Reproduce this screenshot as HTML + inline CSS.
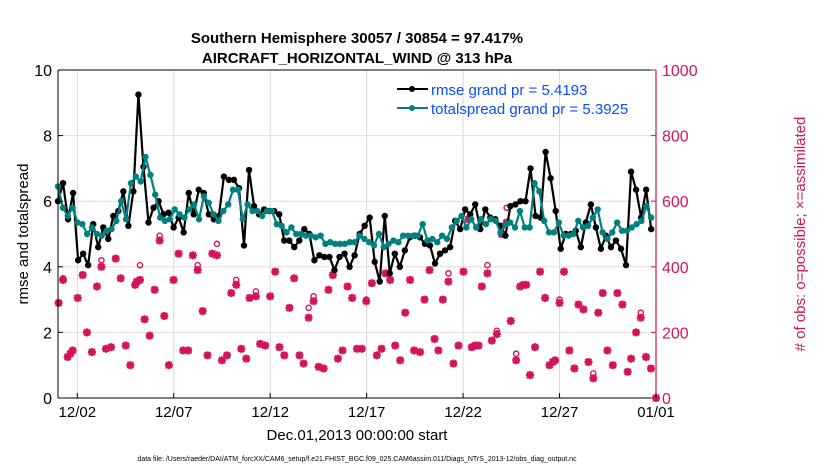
<!DOCTYPE html>
<html><head><meta charset="utf-8">
<style>
body{margin:0;background:#fff;}
svg{display:block;font-family:"Liberation Sans",sans-serif;}
</style></head>
<body>
<svg id="chart" width="830" height="470" xmlns="http://www.w3.org/2000/svg">
<rect width="830" height="470" fill="#fff"/>
<g id="grid"></g>
<g id="marks"></g>
<g id="axes"></g>
<text x="357" y="43" text-anchor="middle" font-size="15" font-weight="bold">Southern Hemisphere 30057 / 30854 = 97.417%</text>
<text x="357" y="63" text-anchor="middle" font-size="15" font-weight="bold">AIRCRAFT_HORIZONTAL_WIND @ 313 hPa</text>
<text x="357" y="440" text-anchor="middle" font-size="15">Dec.01,2013 00:00:00 start</text>
<text transform="translate(28,234) rotate(-90)" text-anchor="middle" font-size="15">rmse and totalspread</text>
<text transform="translate(805,234) rotate(-90)" text-anchor="middle" font-size="15" fill="#d4145a"># of obs: o=possible; ×=assimilated</text>
<text x="357" y="461" text-anchor="middle" font-size="7">data file: /Users/raeder/DAI/ATM_forcXX/CAM6_setup/f.e21.FHIST_BGC.f09_025.CAM6assim.011/Diags_NTrS_2013-12/obs_diag_output.nc</text>
<g>
<line x1="397" y1="89" x2="428" y2="89" stroke="#000" stroke-width="2"/><circle cx="412" cy="89" r="3" fill="#000"/>
<text x="431" y="95" font-size="15" fill="#0a4cff">rmse grand pr = 5.4193</text>
<line x1="397" y1="108" x2="428" y2="108" stroke="#008080" stroke-width="2"/><circle cx="412" cy="108" r="3" fill="#008080"/>
<text x="431" y="114" font-size="15" fill="#0a4cff">totalspread grand pr = 5.3925</text>
</g>
</svg>
<script>
const xTickLabels=["12/02","12/07","12/12","12/17","12/22","12/27","01/01"];
const xTickDays=[1,6,11,16,21,26,31];
const yTicks=[0,2,4,6,8,10];
const y2Ticks=[0,200,400,600,800,1000];
const rmse=[6.0,6.55,5.45,6.25,4.2,4.4,4.05,5.3,4.6,5.2,4.85,5.55,5.7,6.3,5.25,6.3,9.25,7.05,5.35,5.8,6.0,5.6,5.65,5.2,5.5,5.05,6.25,5.6,6.35,6.25,5.6,5.45,5.55,6.75,6.65,6.65,6.4,4.65,6.95,
5.85,5.6,5.75,5.7,5.7,5.6,4.8,4.8,4.6,4.8,5.15,5.0,4.2,4.35,4.3,4.3,3.9,4.3,4.4,4.0,4.35,5.0,5.25,5.5,4.15,3.55,5.55,3.8,4.4,4.0,4.5,4.9,4.95,4.9,4.7,4.65,4.1,4.4,4.5,
4.6,5.4,5.15,5.75,5.6,5.9,5.15,5.75,5.5,5.45,5.25,4.95,5.85,5.9,6.0,6.0,7.0,5.55,5.5,7.5,6.7,5.7,4.55,5.0,5.0,5.1,4.6,5.35,5.9,5.2,4.55,4.95,4.6,4.8,4.55,4.05,6.9,6.35,5.5,6.35,5.15];
const spread=[6.45,5.8,5.55,5.8,5.35,5.3,5.0,5.2,5.0,4.95,5.1,5.15,5.4,6.0,5.45,6.55,6.75,6.6,7.35,6.8,6.2,5.5,5.4,5.45,5.75,5.6,5.5,5.75,5.9,5.45,6.15,5.95,5.6,5.4,5.7,5.9,6.35,6.35,5.45,5.9,
5.7,5.7,5.55,5.7,5.7,5.3,5.25,5.05,5.2,5.0,5.0,4.95,4.95,4.9,4.95,4.7,4.75,4.7,4.7,4.7,4.75,4.75,4.95,4.85,4.75,4.65,5.0,4.6,4.7,4.8,4.75,4.95,4.95,4.95,4.95,5.3,4.8,4.85,4.75,4.95,
4.85,5.2,5.4,5.55,5.2,5.45,5.2,5.45,5.3,5.45,5.4,5.05,5.3,5.35,5.2,5.7,5.2,5.2,6.55,6.3,5.4,5.05,5.05,5.35,4.95,4.95,5.0,5.4,5.2,5.25,5.5,5.75,5.05,4.85,5.05,5.35,5.1,5.1,5.2,5.3,5.4,5.85,5.5];
const rmseStart=0, rmseEnd=30.75, spreadStart=0, spreadEnd=30.75;
const obsDays=[0.03,0.26,0.5,0.64,0.76,1.02,1.28,1.5,1.76,2.02,2.25,2.49,2.75,2.99,3.25,3.51,3.75,4.0,4.09,4.25,4.49,4.75,5.01,5.27,5.51,5.75,5.99,6.25,6.49,6.75,6.99,7.24,7.5,7.75,8.0,8.24,8.5,8.76,8.98,9.24,9.5,9.76,9.93,
10.26,10.48,10.74,11.0,11.26,11.48,11.73,12.0,12.24,12.52,12.73,12.99,13.25,13.51,13.77,14.02,14.25,14.51,14.75,15.01,15.25,15.5,15.75,15.98,16.27,16.53,16.77,16.98,17.22,17.48,17.74,18.0,18.25,18.46,18.77,19.0,19.26,19.52,19.72,
19.95,20.24,20.5,20.76,21.02,21.28,21.45,21.62,21.8,21.97,22.26,22.49,22.75,23.0,23.26,23.47,23.75,23.96,24.13,24.27,24.47,24.73,24.99,25.25,25.48,25.65,25.77,26.0,26.23,26.51,26.77,26.98,27.24,27.5,27.75,28.01,28.24,28.48,28.76,29.0,29.26,29.53,29.71,29.97,30.21,30.48,30.74,31.0];
const obsAssim=[290,360,125,135,145,305,375,200,140,340,400,150,155,425,365,160,100,345,355,360,240,190,330,480,250,100,360,440,145,145,435,390,265,130,440,435,115,130,320,345,150,120,305,
310,165,160,310,385,155,130,275,365,130,105,245,295,95,90,330,375,120,145,340,305,150,150,295,350,130,150,380,360,160,115,260,360,145,140,300,390,180,145,
300,355,105,160,385,545,155,160,160,340,380,175,195,500,535,235,115,340,345,345,70,155,385,305,100,110,115,290,385,145,90,285,270,110,60,260,320,145,100,320,285,80,120,200,245,125,90,0];
const obsPossible=[290,365,125,135,145,305,375,200,140,340,420,150,155,425,365,160,100,345,355,405,240,190,330,495,250,100,360,440,145,145,435,405,265,130,440,470,115,130,320,360,150,120,305,
325,165,160,310,385,155,130,275,365,130,105,275,310,95,90,330,375,120,145,340,305,150,150,300,350,130,150,380,360,160,115,260,360,145,140,300,390,180,145,
300,380,105,160,385,545,155,160,160,340,405,175,205,520,580,235,135,340,345,345,70,155,385,305,100,110,115,300,385,145,90,285,270,110,75,260,320,145,100,320,285,80,120,200,260,125,90,0];

const NS="http://www.w3.org/2000/svg";
const X0=58,X1=656,Y0=398,Y1=70, MAG="#d4145a";
const xScale=d=>X0+(d/31)*(X1-X0);
const yScale=v=>Y0-(v/10)*(Y0-Y1);
const y2Scale=v=>Y0-(v/1000)*(Y0-Y1);
function mk(tag,attrs,parent){const e=document.createElementNS(NS,tag);for(const k in attrs)e.setAttribute(k,attrs[k]);parent.appendChild(e);return e;}
const grid=document.getElementById('grid'),marks=document.getElementById('marks'),axes=document.getElementById('axes');
xTickDays.forEach(d=>{const l=mk('line',{x1:xScale(d),x2:xScale(d),y1:Y1,y2:Y0,stroke:'#d8d8d8','stroke-width':1},grid);

});
y2Ticks.slice(1,-1).forEach(v=>{const l=mk('line',{x1:X0,x2:X1,y1:y2Scale(v),y2:y2Scale(v),stroke:'#f0d6df','stroke-width':1},grid);

});
obsDays.forEach((d,i)=>{
 const x=xScale(d),yp=y2Scale(obsPossible[i]),ya=y2Scale(obsAssim[i]);
 const c=mk('circle',{cx:x,cy:yp,r:2.6,fill:'none',stroke:MAG,'stroke-width':1.4},marks);
 
 
 const g=mk('g',{stroke:MAG,'stroke-width':2.3},marks);
 
 
 const s=4;
 mk('line',{x1:x-s,x2:x+s,y1:ya,y2:ya},g);mk('line',{x1:x,x2:x,y1:ya-s,y2:ya+s},g);
 mk('line',{x1:x-3,x2:x+3,y1:ya-3,y2:ya+3},g);mk('line',{x1:x-3,x2:x+3,y1:ya+3,y2:ya-3},g);
});
function series(vals,t0,t1,color,name){
 const step=(t1-t0)/(vals.length-1);
 const pts=vals.map((v,i)=>[xScale(t0+i*step),yScale(v)]);
 const p=mk('polyline',{points:pts.map(p=>p.join(',')).join(' '),fill:'none',stroke:color,'stroke-width':2.2,'stroke-linejoin':'round'},marks);
 
 
 pts.forEach(q=>{const c=mk('circle',{cx:q[0],cy:q[1],r:3.2,fill:color},marks);
 
 });
}
series(rmse,rmseStart,rmseEnd,'#000','rmse');
series(spread,spreadStart,spreadEnd,'#008080','totalspread');
mk('line',{x1:X0,x2:X1,y1:Y1,y2:Y1,stroke:'#000','stroke-width':1},axes);
mk('line',{x1:X0,x2:X1,y1:Y0,y2:Y0,stroke:'#000','stroke-width':1},axes);
mk('line',{x1:X0,x2:X0,y1:Y1,y2:Y0,stroke:'#000','stroke-width':1},axes);
mk('line',{x1:X1,x2:X1,y1:Y1,y2:Y0,stroke:MAG,'stroke-width':1.2},axes);
xTickDays.forEach((d,i)=>{
 mk('line',{x1:xScale(d),x2:xScale(d),y1:Y0,y2:Y0-5,stroke:'#000'},axes);
 const t=mk('text',{x:xScale(d),y:Y0+19,'text-anchor':'middle','font-size':15},axes);t.textContent=xTickLabels[i];
 
 
});
yTicks.forEach(v=>{
 mk('line',{x1:X0,x2:X0+5,y1:yScale(v),y2:yScale(v),stroke:'#000'},axes);
 const t=mk('text',{x:X0-6,y:yScale(v)+6,'text-anchor':'end','font-size':16},axes);t.textContent=v;
 
 
});
y2Ticks.forEach(v=>{
 mk('line',{x1:X1,x2:X1-5,y1:y2Scale(v),y2:y2Scale(v),stroke:MAG},axes);
 const t=mk('text',{x:X1+6,y:y2Scale(v)+6,'font-size':16,fill:MAG},axes);t.textContent=v;
 
 
});
</script>
</body></html>
